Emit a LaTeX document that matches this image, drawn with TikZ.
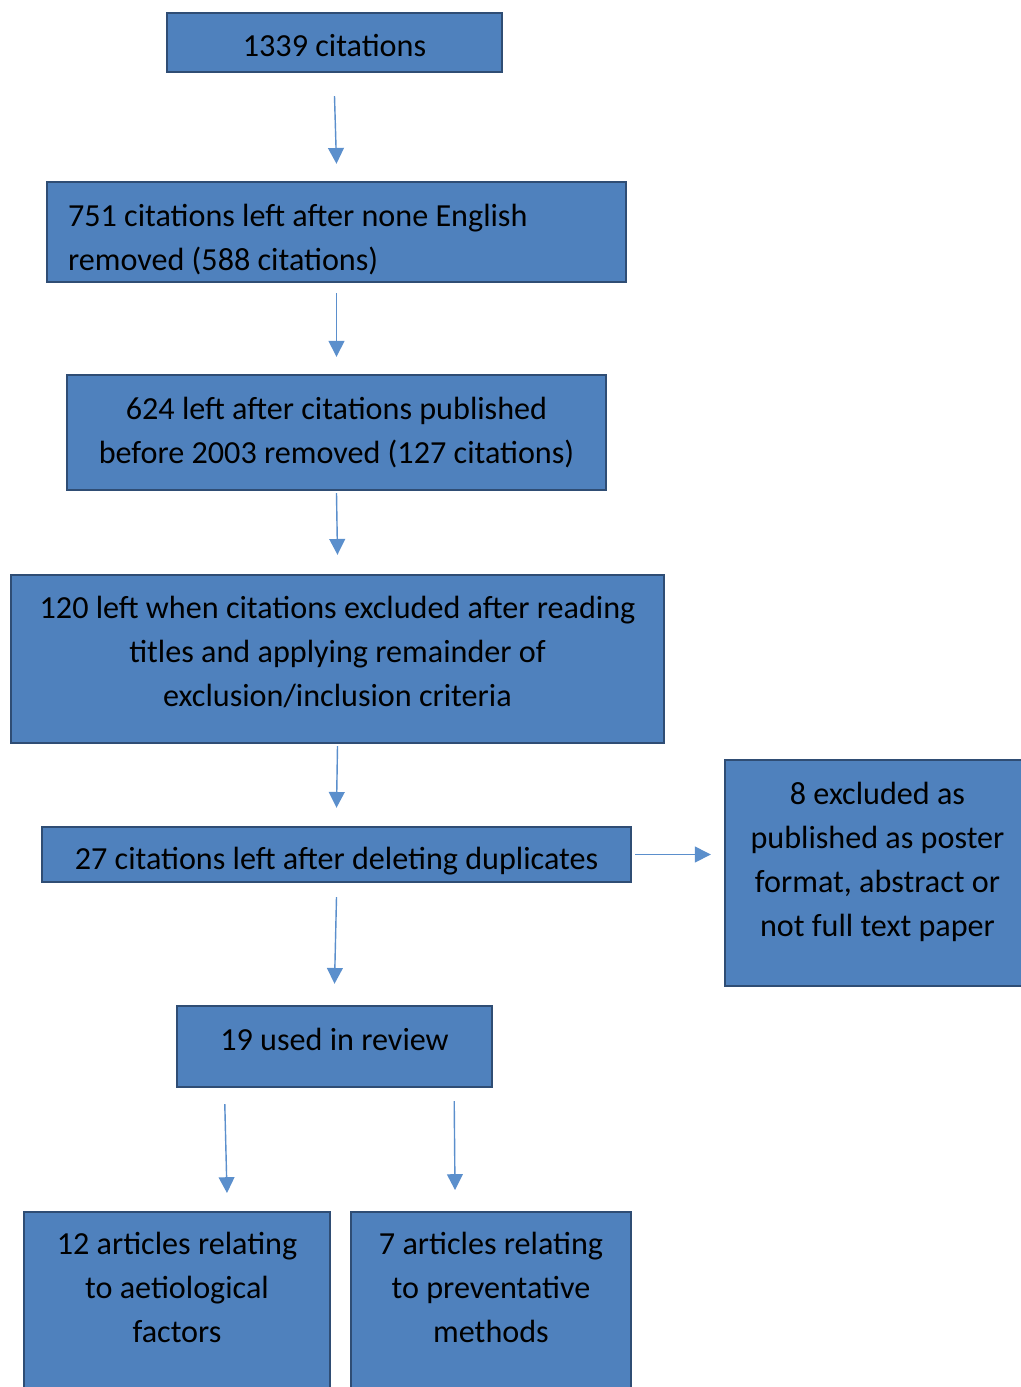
\documentclass[tikz,border=0pt]{standalone}
\usepackage{fontspec}
\setmainfont{Carlito}
\usetikzlibrary{arrows.meta}
\definecolor{boxfill}{HTML}{4F81BD}
\definecolor{boxline}{HTML}{2F4D74}
\definecolor{arrowblue}{HTML}{5B8FCC}

\begin{document}
\begin{tikzpicture}[x=0.02cm,y=-0.02cm,line join=miter,
  >={Triangle[length=9pt,width=9pt]},
  box/.style={draw=boxline,line width=1.4pt,fill=boxfill,inner sep=0pt,
     font=\fontsize{18.3}{25}\selectfont,align=center},
  flow/.style={->,draw=arrowblue,fill=arrowblue,line width=0.8pt}]

\path[use as bounding box,clip] (0,0) rectangle (1021,1387);

%% ---------------- the screening steps ----------------
\node[box,minimum width=6.7cm,minimum height=1.18cm,text height=16pt]
  (cit) at (334.5,42.5) {1339 citations};
\node[box,minimum width=11.58cm,minimum height=2cm,text width=10.74cm,
  align=flush left,text height=21.5pt] (eng) at (336.5,232)
  {751 citations left after none English\\removed (588 citations)};
\node[box,minimum width=10.78cm,minimum height=2.3cm] (pub) at (336.5,432.5)
  {624 left after citations published\\before 2003 removed (127 citations)};
\node[box,minimum width=13.06cm,minimum height=3.36cm,text depth=9pt]
  (scr) at (337.5,659)
  {120 left when citations excluded after reading\\titles and applying
   remainder of\\exclusion/inclusion criteria};
\node[box,minimum width=11.78cm,minimum height=1.1cm,text height=20.5pt]
  (dup) at (336.5,854.5) {27 citations left after deleting duplicates};
\node[box,minimum width=6.1cm,minimum height=4.52cm,text depth=16pt]
  (exc) at (877.5,873)
  {8 excluded as\\published as poster\\format, abstract or\\not full text paper};
\node[box,minimum width=6.3cm,minimum height=1.62cm,text depth=8pt]
  (rev) at (334.5,1046.5) {19 used in review};

%% ---------------- the two groups ----------------
\node[box,anchor=north,minimum width=6.12cm,inner ysep=11.3pt,text depth=3cm]
  (aet) at (177,1211) {12 articles relating\\to aetiological\\factors};
\node[box,anchor=north,minimum width=5.6cm,inner ysep=11.3pt,text depth=3cm]
  (pre) at (491,1211) {7 articles relating\\to preventative\\methods};

%% ---------------- arrows ----------------
\draw[flow] ([yshift=-0.46cm]cit.south) -- ([yshift=0.34cm]eng.north);
\draw[flow] ([yshift=-0.2cm]eng.south) -- ([yshift=0.34cm]pub.north);
\draw[flow] ([yshift=-0.04cm]pub.south) -- ([yshift=0.38cm]scr.north);
\draw[flow] ([yshift=-0.04cm]scr.south) -- ([yshift=0.36cm]dup.north);
\draw[flow] ([xshift=0.06cm]dup.east) -- ([xshift=-0.26cm]exc.west |- dup.east);
\draw[flow] ([yshift=-0.28cm]dup.south) -- ([yshift=0.42cm]rev.north);
\draw[flow] ([xshift=0.98cm,yshift=-0.32cm]rev.south west)
  -- ([xshift=1cm,yshift=0.36cm]aet.north);
\draw[flow] ([xshift=-0.78cm,yshift=-0.26cm]rev.south east)
  -- ([xshift=-0.72cm,yshift=0.42cm]pre.north);

\end{tikzpicture}
\end{document}
